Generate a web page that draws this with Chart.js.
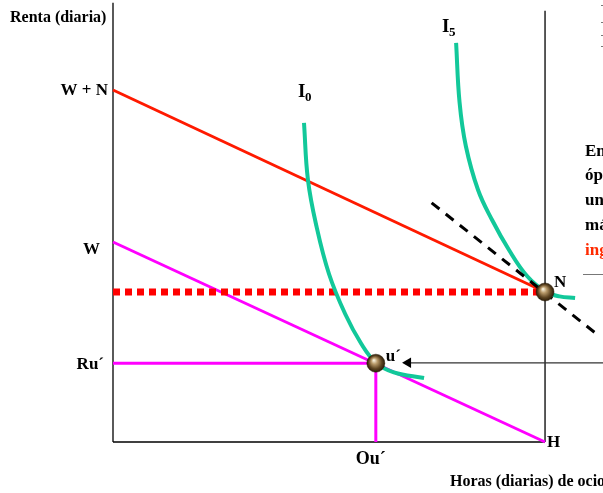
<!DOCTYPE html>
<html>
<head>
<meta charset="utf-8">
<script src="https://cdn.jsdelivr.net/npm/chart.js@4"></script>
<style>
  html, body { margin: 0; padding: 0; background: #ffffff; overflow: hidden; }
  canvas { display: block; }
</style>
</head>
<body>
<canvas id="c" width="603" height="493"></canvas>
<script>
// ---------- data (hours of leisure on x, daily income on y) ----------
const H = 24;                                   // total hours
const xMax = 27.22;
const yMax = 110;
const budgetWithN = [{x: 0, y: 88}, {x: 24, y: 37.5}];      // W + N line
const budgetW = [{x: 0, y: 50}, {x: 24, y: 0}];             // W line
const incomeN = [{x: 0, y: 37.5}, {x: 24, y: 37.5}];        // dotted level of N
const ruLine = [{x: 0, y: 19.7}, {x: 14.6, y: 19.7}];
const ouLine = [{x: 14.6, y: 19.7}, {x: 14.6, y: 0}];
const curveI0 = [
  {x: 10.61, y: 79.8}, {x: 10.83, y: 65.5}, {x: 11.3, y: 54}, {x: 12.0, y: 42},
  {x: 12.9, y: 32}, {x: 13.8, y: 24.5}, {x: 14.61, y: 19.8}, {x: 15.6, y: 17.4},
  {x: 17.28, y: 16}
];
const curveI5 = [
  {x: 19.06, y: 99.8}, {x: 19.25, y: 85}, {x: 19.6, y: 74}, {x: 20.28, y: 63},
  {x: 21.06, y: 55.5}, {x: 22.0, y: 48}, {x: 23.0, y: 41.5}, {x: 24, y: 37.7},
  {x: 24.8, y: 36.4}, {x: 25.67, y: 36}
];
const tangentN = [{x: 17.7, y: 59.8}, {x: 27.06, y: 26.3}];
const arrowLine = [{x: 27.3, y: 19.8}, {x: 16.3, y: 19.8}];
const arrowHead = [{x: 16.39, y: 19.8}];
const optimumPoints = [{x: 24, y: 37.5}, {x: 14.6, y: 19.7}];
const axisY = [{x: 0, y: 0}, {x: 0, y: 109.8}];
const axisX = [{x: 0, y: 0}, {x: 24, y: 0}];
const axisH = [{x: 24, y: 0}, {x: 24, y: 107.8}];
const yTickLabels = ['W + N', 'W', 'Ru´'];
const yTickValues = [88, 50, 19.7];
const xTickLabels = ['Ou´'];
const xTickValues = [14.6];
const rightNote = ['En el', 'óptimo', 'una', 'más', 'ingreso'];

// ---------- helpers ----------
function lineDs(data, color, width, extra) {
  return Object.assign({
    data: data, showLine: true, borderColor: color, borderWidth: width,
    pointRadius: 0, pointHoverRadius: 0, fill: false, clip: false, tension: 0
  }, extra || {});
}

const serif = '"Liberation Serif", "Times New Roman", serif';

const labelPlugin = {
  id: 'labels',
  afterDatasetsDraw(chart) {
    const ctx = chart.ctx, sx = chart.scales.x, sy = chart.scales.y;
    ctx.save();
    ctx.fillStyle = '#000';
    ctx.textBaseline = 'middle';
    // axis titles
    ctx.font = 'bold 16px ' + serif;
    ctx.textAlign = 'left';
    ctx.fillText('Renta (diaria)', 10, 18);
    ctx.fillText('Horas (diarias) de ocio', 450, 482);
    // y labels
    ctx.font = 'bold 17px ' + serif;
    ctx.textAlign = 'right';
    const dxs = [-5, -13, -9], dys = [1, 8, 1];
    yTickLabels.forEach((t, i) => {
      ctx.fillText(t, sx.getPixelForValue(0) + dxs[i], sy.getPixelForValue(yTickValues[i]) + dys[i]);
    });
    // x label
    ctx.font = 'bold 18px ' + serif;
    ctx.textAlign = 'center';
    xTickLabels.forEach((t, i) => {
      ctx.fillText(t, sx.getPixelForValue(xTickValues[i]) - 5, sy.getPixelForValue(0) + 17);
    });
    // H, N, u´
    ctx.font = 'bold 17px ' + serif;
    ctx.textAlign = 'left';
    ctx.fillText('H', sx.getPixelForValue(H) + 2, sy.getPixelForValue(0) + 1);
    ctx.fillText('N', sx.getPixelForValue(optimumPoints[0].x) + 9, sy.getPixelForValue(optimumPoints[0].y) - 9);
    ctx.fillText('u´', sx.getPixelForValue(optimumPoints[1].x) + 10, sy.getPixelForValue(optimumPoints[1].y) - 7);
    // I0, I5
    const drawI = (sub, pt, dx, dy) => {
      const x = sx.getPixelForValue(pt.x) + dx, y = sy.getPixelForValue(pt.y) + dy;
      ctx.font = 'bold 19px ' + serif;
      ctx.textAlign = 'left';
      ctx.fillText('I', x, y);
      ctx.font = 'bold 13px ' + serif;
      ctx.fillText(sub, x + 7, y + 6);
    };
    drawI('0', curveI0[0], -6, -31);
    drawI('5', curveI5[0], -14, -16);
    // right note (cut by the edge)
    ctx.font = 'bold 17px ' + serif;
    ctx.textAlign = 'left';
    const ys = [152, 176, 201, 226, 251];
    rightNote.forEach((t, i) => {
      ctx.fillStyle = i === rightNote.length - 1 ? '#ff2a00' : '#000';
      ctx.fillText(t, 585, ys[i]);
    });
    ctx.strokeStyle = '#777';
    ctx.lineWidth = 1;
    ctx.beginPath();
    ctx.moveTo(583, 274.5);
    ctx.lineTo(603, 274.5);
    [5, 22, 35, 46].forEach(y => { ctx.moveTo(601, y + 0.5); ctx.lineTo(603, y + 0.5); });
    ctx.stroke();
    ctx.restore();
  }
};

function ballColor(c) {
  const ch = c.chart;
  if (!ch.chartArea || !c.raw) return '#6b5030';
  const px = ch.scales.x.getPixelForValue(c.raw.x), py = ch.scales.y.getPixelForValue(c.raw.y);
  const g = ch.ctx.createRadialGradient(px - 2, py - 3, 0.5, px, py, 9);
  g.addColorStop(0, '#f6eed8');
  g.addColorStop(0.3, '#b89a6a');
  g.addColorStop(0.7, '#5e4522');
  g.addColorStop(1, '#2a1c08');
  return g;
}

new Chart(document.getElementById('c'), {
  type: 'scatter',
  data: {
    datasets: [
      { data: optimumPoints, pointRadius: 9, pointHoverRadius: 9, pointBackgroundColor: ballColor,
        pointBorderColor: '#2a1c08', pointBorderWidth: 0.5, showLine: false, clip: false },
      lineDs(arrowHead, '#000', 0, { pointRadius: 6, pointStyle: 'triangle', pointRotation: 270,
        pointBackgroundColor: '#000', pointBorderColor: '#000', pointBorderWidth: 0, showLine: false }),
      lineDs(arrowLine, '#333', 1.2),
      lineDs(tangentN, '#000', 3, { borderDash: [10, 8] }),
      lineDs(curveI5, '#12c89a', 4, { tension: 0.4 }),
      lineDs(curveI0, '#12c89a', 4, { tension: 0.4 }),
      lineDs(incomeN, '#ff0000', 7, { borderDash: [7, 5], borderCapStyle: 'butt' }),
      lineDs(budgetWithN, '#ff1a00', 3),
      lineDs(budgetW, '#ff00ff', 3),
      lineDs(ruLine, '#ff00ff', 3),
      lineDs(ouLine, '#ff00ff', 3),
      lineDs(axisH, '#000', 1.3),
      lineDs(axisX, '#000', 1.3),
      lineDs(axisY, '#000', 1.3)
    ]
  },
  options: {
    responsive: false,
    animation: false,
    events: [],
    layout: { autoPadding: false, padding: { left: 113, top: 2, right: 0, bottom: 51 } },
    scales: {
      x: { type: 'linear', min: 0, max: xMax, display: false },
      y: { type: 'linear', min: 0, max: yMax, display: false }
    },
    plugins: { legend: { display: false }, tooltip: { enabled: false } }
  },
  plugins: [labelPlugin]
});
</script>
</body>
</html>
